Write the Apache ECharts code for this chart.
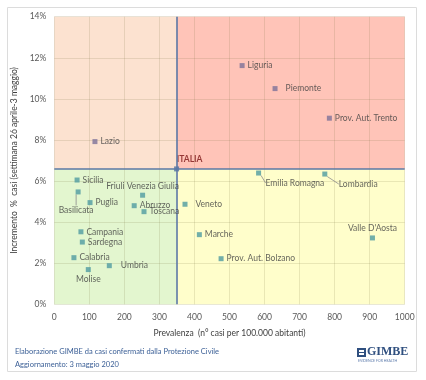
<!DOCTYPE html>
<html>
<head>
<meta charset="utf-8">
<script src="https://cdn.jsdelivr.net/npm/echarts@6/dist/echarts.min.js"></script>
<style>html,body{margin:0;padding:0;background:#fff}#c{width:426px;height:380px}</style>
</head>
<body>
<div id="c"></div>
<script>
// ---- data ----
var regions = ['Lazio','Liguria','Piemonte','Prov. Aut. Trento','Sicilia','Basilicata','Puglia','Friuli Venezia Giulia','Abruzzo','Toscana','Veneto','Marche','Campania','Sardegna','Calabria','Molise','Umbria','Emilia Romagna','Lombardia',"Valle D'Aosta",'Prov. Aut. Bolzano'];
var prevalence = [116, 536, 630, 785, 65, 68, 102, 252, 228, 256, 373, 414, 76, 80, 56, 97, 157, 583, 772, 908, 476];
var increment  = [7.92, 11.62, 10.5, 9.06, 6.05, 5.47, 4.95, 5.31, 4.8, 4.51, 4.87, 3.39, 3.53, 3.03, 2.27, 1.69, 1.88, 6.39, 6.34, 3.23, 2.22];
var italyName = 'ITALIA';
var italyPrevalence = 349;
var italyIncrement = 6.59;
var xTicks = [0,100,200,300,400,500,600,700,800,900,1000];
var yTicks = [0,2,4,6,8,10,12,14];

// ---- styles (label placement) ----
var labelStyle = {
  'Piemonte': {position:'right', distance:8},
  'Veneto': {position:'right', distance:8},
  'Umbria': {position:'right', distance:9},
  'Friuli Venezia Giulia': {position:'top', offset:[-3,-1], distance:2},
  "Valle D'Aosta": {position:'top', offset:[8,0], distance:3},
  'Molise': {position:'bottom', offset:[12,0], distance:3}
};
var movedLabels = {
  'Basilicata': [-2, 18, 'center'],
  'Emilia Romagna': [7, 10, 'left'],
  'Lombardia': [14, 10, 'left']
};

var FONT = 'Lato, "Noto Sans", sans-serif';
var chart = echarts.init(document.getElementById('c'), null, {renderer:'canvas'});

var pts = regions.map(function(n,i){
  var above = increment[i] > italyIncrement;
  var item = {name:n, value:[prevalence[i], increment[i]],
    itemStyle:{color: above ? '#7d7298' : '#4f9ba0'}};
  var ls = labelStyle[n];
  if (ls) item.label = ls;
  if (movedLabels[n]) item.labelLine = {show:true};
  return item;
});

var option = {
  animation:false,
  textStyle:{fontFamily:FONT},
  grid:{left:54.3, right:21.3, top:16.7, bottom:75.7},
  xAxis:{type:'value', min:0, max:1000, interval:100, z:3,
    axisLine:{show:false}, axisTick:{show:false},
    splitLine:{show:true, lineStyle:{color:'rgba(120,110,60,0.16)', width:1}},
    axisLabel:{color:'#595959', fontSize:8.5, margin:8, fontFamily:FONT,
      formatter:function(v){return xTicks.indexOf(v)>=0 ? String(v) : '';}},
    name:'Prevalenza  (n° casi per 100.000 abitanti)', nameLocation:'middle', nameGap:24,
    nameTextStyle:{color:'#404040', fontSize:8.5, fontFamily:FONT}
  },
  yAxis:{type:'value', min:0, max:14, interval:2, z:3,
    axisLine:{show:false}, axisTick:{show:false},
    splitLine:{show:true, lineStyle:{color:'rgba(120,110,60,0.16)', width:1}},
    axisLabel:{color:'#595959', fontSize:8.5, margin:8, fontFamily:FONT,
      formatter:function(v){return yTicks.indexOf(v)>=0 ? v+'%' : '';}},
    name:'Incremento  %  casi (settimana 26 aprile-3 maggio)', nameLocation:'middle', nameGap:32,
    nameTextStyle:{color:'#404040', fontSize:8.5, fontFamily:FONT}
  },
  series:[
    {type:'scatter', z:1, data:[], silent:true,
      markArea:{silent:true, data:[
        [{coord:[0,italyIncrement], itemStyle:{color:'#fce2d0'}},{coord:[italyPrevalence,14]}],
        [{coord:[italyPrevalence,italyIncrement], itemStyle:{color:'#ffc4b8'}},{coord:[1000,14]}],
        [{coord:[0,0], itemStyle:{color:'#e3f6cf'}},{coord:[italyPrevalence,italyIncrement]}],
        [{coord:[italyPrevalence,0], itemStyle:{color:'#fffecb'}},{coord:[1000,italyIncrement]}]
      ]}
    },
    {type:'scatter', z:4, symbol:'rect', symbolSize:5,
      data:[{name:italyName, value:[italyPrevalence, italyIncrement], itemStyle:{color:'#4f6f9f'}}],
      label:{show:true, position:'top', offset:[13,-1], distance:2, formatter:'{b}',
        color:'#7a1414', fontWeight:'bold', fontSize:8.5, fontFamily:FONT},
      markLine:{silent:true, symbol:['none','none'], animation:false,
        lineStyle:{color:'#5b78a6', width:1.6, type:'solid'}, label:{show:false},
        data:[{xAxis:italyPrevalence},{yAxis:italyIncrement}]}
    },
    {type:'scatter', z:5, symbol:'rect', symbolSize:5, data:pts,
      label:{show:true, position:'right', distance:3, formatter:'{b}',
        color:'#404040', fontSize:8.5, fontFamily:FONT},
      labelLine:{show:false, lineStyle:{color:'#8c8c8c', width:0.8}},
      labelLayout:function(p){
        var m = movedLabels[regions[p.dataIndex]];
        if (!m) return {};
        return {dx:m[0]-(p.labelRect.x - p.rect.x) + (m[2]==='left' ? p.rect.width/2 : -p.labelRect.width/2 + p.rect.width/2),
                dy:m[1]-(p.labelRect.y + p.labelRect.height/2 - (p.rect.y + p.rect.height/2))};
      }
    }
  ],
  graphic:[
    {type:'rect', left:5, top:5, shape:{width:409, height:364}, silent:true,
      style:{fill:'none', stroke:'#dcdcdc', lineWidth:1}, z:-1},
    {type:'text', left:15, top:348, style:{text:'Elaborazione GIMBE da casi confermati dalla Protezione Civile', fill:'#3b5f96', font:'7.5px '+FONT}},
    {type:'text', left:15, top:361, style:{text:'Aggiornamento: 3 maggio 2020', fill:'#3b5f96', font:'7.5px '+FONT}},
    {type:'rect', left:357, top:348, shape:{width:9, height:9}, style:{fill:'#2f4f7f'}},
    {type:'rect', left:359, top:350, shape:{width:5, height:2}, style:{fill:'#ffffff'}},
    {type:'rect', left:359, top:353, shape:{width:5, height:2}, style:{fill:'#ffffff'}},
    {type:'text', left:367, top:346, style:{text:'GIMBE', fill:'#2f4f7f', font:'bold 12px "Liberation Serif", serif'}},
    {type:'text', left:358, top:359, style:{text:'EVIDENCE FOR HEALTH', fill:'#5d7bab', font:'3.5px '+FONT}}
  ]
};
chart.setOption(option);
</script>
</body>
</html>
